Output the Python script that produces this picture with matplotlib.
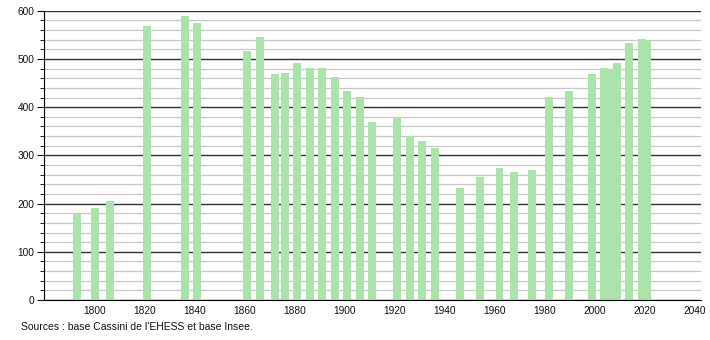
import matplotlib
matplotlib.use("Agg")
import matplotlib.pyplot as plt
from matplotlib.ticker import MultipleLocator

years = [1793, 1800, 1806, 1821, 1836, 1841, 1861, 1866, 1872, 1876,
         1881, 1886, 1891, 1896, 1901, 1906, 1911, 1921, 1926, 1931,
         1936, 1946, 1954, 1962, 1968, 1975, 1982, 1990, 1999, 2004,
         2006, 2009, 2014, 2019, 2021]
population = [179, 190, 206, 569, 588, 575, 517, 546, 469, 471,
              492, 481, 481, 463, 434, 421, 369, 379, 340, 330,
              315, 232, 255, 274, 266, 270, 421, 434, 469, 481,
              479, 492, 533, 541, 540]
x_ticks = [1800, 1820, 1840, 1860, 1880, 1900, 1920, 1940, 1960, 1980, 2000, 2020, 2040]
source = "Sources : base Cassini de l'EHESS et base Insee."

plt.rcParams["font.family"] = ["Liberation Sans", "DejaVu Sans"]

fig = plt.figure(figsize=(7.1, 3.4), dpi=100)
ax = fig.add_axes([0.062, 0.1176, 0.925, 0.8509])

ax.set_axisbelow(True)
ax.bar(years, population, width=3.2, color="#ace2ac", zorder=2)

ax.set_xlim(1779.6, 2042.6)
ax.set_ylim(0, 600)
ax.yaxis.set_major_locator(MultipleLocator(100))
ax.yaxis.set_minor_locator(MultipleLocator(20))
ax.grid(which="minor", axis="y", color="#c8c8c8", lw=0.9, zorder=0)
ax.grid(which="major", axis="y", color="#333333", lw=1.0, zorder=1)
ax.set_xticks(x_ticks)

for s in ("top", "right"):
    ax.spines[s].set_visible(False)
ax.spines["left"].set_color("black")
ax.spines["bottom"].set_color("black")
ax.tick_params(axis="x", length=0, labelsize=7.3, pad=4, colors="#111111")
ax.tick_params(axis="y", which="major", length=5, labelsize=7.3, pad=2, colors="#111111")
ax.tick_params(axis="y", which="minor", length=3)

fig.text(0.029, 0.038, source, fontsize=7.5, color="#111111", va="center")

fig.savefig("out.png", dpi=100)
